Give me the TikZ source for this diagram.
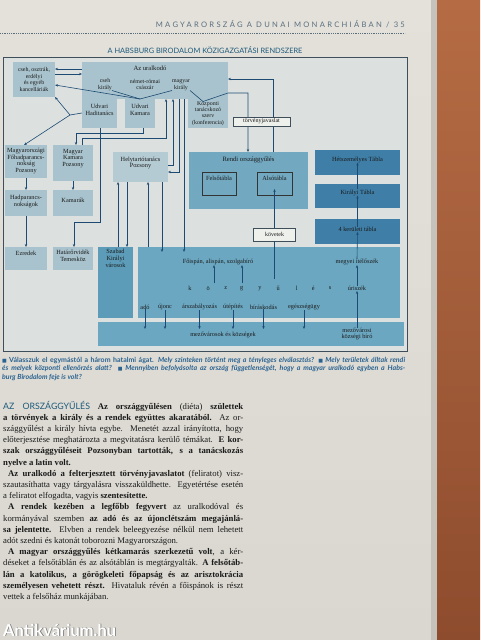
\documentclass[tikz,border=0pt]{standalone}
\usepackage{fontspec}
\setmainfont{Liberation Serif}
\newfontfamily\gill{Lato}
\newfontfamily\gillspaced[LetterSpace=30]{Lato}
\newfontfamily\dejavu{DejaVu Sans}
\usetikzlibrary{arrows.meta}
\definecolor{paper}{HTML}{E3E1DA}
\definecolor{paperlow}{HTML}{D9D7CF}
\definecolor{pageedge}{HTML}{C4C2BA}
\definecolor{brownhi}{HTML}{B56C44}
\definecolor{brownbg}{HTML}{8E4C2E}
\definecolor{framebg}{HTML}{DCE1E0}
\definecolor{framedraw}{HTML}{3E4E5A}
\definecolor{lightbox}{HTML}{A8C3CD}
\definecolor{palebox}{HTML}{B5CBD3}
\definecolor{midbox}{HTML}{72A8C0}
\definecolor{darkbox}{HTML}{3F7EA7}
\definecolor{citybox}{HTML}{5C9CB8}
\definecolor{regionbox}{HTML}{6BA7C1}
\definecolor{lineblue}{HTML}{1C4A72}
\definecolor{headblue}{HTML}{1E5A7C}
\definecolor{headgrey}{HTML}{5A6E7E}
\definecolor{qblue}{HTML}{2A6290}
\definecolor{inktext}{HTML}{1A1A1A}
\definecolor{labelbg}{HTML}{EEF0EC}
\newcommand{\qb}{{\dejavu\upshape\fontsize{5}{5}\selectfont ■}}
\begin{document}
\begin{tikzpicture}[x=1pt,y=-1pt,
  fbox/.style={draw=none, inner sep=0pt, outer sep=0pt, anchor=north west},
  dlbl/.style={font=\fontsize{6.3}{6.8}\selectfont, align=center, inner sep=0pt, text=inktext},
  arr/.style={draw=lineblue, line width=0.6pt, -{Stealth[length=3pt,width=2.4pt]}},
  ln/.style={draw=lineblue, line width=0.6pt},
  into/.style={shorten >=-5pt},
  tag/.style={draw=framedraw, line width=0.5pt, fill=labelbg, inner sep=0pt, outer sep=0pt, anchor=north west, font=\fontsize{6}{6.6}\selectfont, text=inktext},
  bodyline/.style={anchor=base west, inner sep=0pt, font=\fontsize{8.7}{10}\selectfont, text=inktext},
  qline/.style={anchor=base west, inner sep=0pt, font=\gill\bfseries\itshape\fontsize{7}{8}\selectfont, text=qblue},
]
\useasboundingbox (0,0) rectangle (480,640);
% paper
\shade[top color=paper, bottom color=paperlow] (0,0) rectangle (431,640);
\fill[pageedge] (431,0) rectangle (437,640);
\shade[top color=brownhi, bottom color=brownbg] (437,0) rectangle (480,640);

% header
\node[anchor=base east, inner sep=0pt, font=\gillspaced\fontsize{7.6}{9}\selectfont, text=headgrey] (hdr) at (405,27.5) {MAGYARORSZÁG A DUNAI MONARCHIÁBAN / 35};
\draw[headgrey, line width=0.7pt, dash pattern=on 0.7pt off 1.1pt] (0,33) -- (405,33);
\node[inner sep=0pt, font=\gill\fontsize{7.4}{9}\selectfont, text=headblue] (title) at (205,50.5) {A HABSBURG BIRODALOM KÖZIGAZGATÁSI RENDSZERE};

% frame
\filldraw[fill=framebg, draw=framedraw, line width=0.8pt] (3,57.5) rectangle (407,351);

% guides
\foreach \n in {69,74,79,85,93,113,133,138,165,172,222,279,283} \coordinate (h\n) at (0,\n);
\foreach \n in {24,74,76,82,100,118,127,143,148,162,166,173,179,184,214,242,248,273} \coordinate (v\n) at (\n,0);

% boxes
\node[fbox, fill=lightbox, minimum width=42pt, minimum height=35pt] (kanc) at (13,62) {};
\node[fbox, fill=lightbox, minimum width=146pt, minimum height=37pt] (ural) at (82,62) {};
\node[fbox, fill=lightbox, minimum width=35pt, minimum height=29pt] (hadi) at (82,99) {};
\node[fbox, fill=lightbox, minimum width=30pt, minimum height=29pt] (kamara) at (125,99) {};
\node[fbox, fill=lightbox, minimum width=40pt, minimum height=29pt] (kozp) at (188,99) {};
\node[fbox, fill=lightbox, minimum width=42pt, minimum height=33pt] (foh) at (5,145) {};
\node[fbox, fill=lightbox, minimum width=42pt, minimum height=26pt] (hadp) at (5,190) {};
\node[fbox, fill=lightbox, minimum width=42pt, minimum height=23pt] (ezr) at (5,247) {};
\node[fbox, fill=lightbox, minimum width=40pt, minimum height=36pt] (mkam) at (53,145) {};
\node[fbox, fill=lightbox, minimum width=40pt, minimum height=26pt] (kamarak) at (53,190) {};
\node[fbox, fill=lightbox, minimum width=40pt, minimum height=23pt] (hatv) at (53,247) {};
\node[fbox, fill=palebox, minimum width=55pt, minimum height=30pt] (helyt) at (113,152) {};
\node[fbox, fill=citybox, minimum width=35pt, minimum height=71pt] (szab) at (98,247) {};
\node[fbox, fill=regionbox, minimum width=262pt, minimum height=71pt] (region) at (138,247) {};
\node[fbox, fill=regionbox, minimum width=306pt, minimum height=24pt] (band) at (98,322) {};
\node[fbox, fill=midbox, minimum width=119pt, minimum height=57pt] (rendi) at (189,152) {};
\node[fbox, fill=midbox, draw=black!80, line width=0.6pt, minimum width=34pt, minimum height=23pt] (felso) at (202,172) {};
\node[fbox, fill=midbox, draw=black!80, line width=0.6pt, minimum width=35pt, minimum height=23pt] (also) at (257,172) {};
\node[fbox, fill=darkbox, minimum width=85pt, minimum height=25pt] (het) at (315,150) {};
\node[fbox, fill=darkbox, minimum width=85pt, minimum height=24pt] (kir) at (315,184) {};
\node[fbox, fill=darkbox, minimum width=85pt, minimum height=25pt] (ker) at (315,219) {};

% labels
\node[dlbl, font=\fontsize{5.9}{6.6}\selectfont] (kanct) at (34,79.5) {cseh, osztrák,\\erdélyi\\és egyéb\\kancelláriák};
\node[dlbl, font=\fontsize{6.6}{7}\selectfont] (uralt) at (150,68) {Az uralkodó};
\node[dlbl, font=\fontsize{5.9}{6.3}\selectfont] (cseh) at (105,84.5) {cseh\\király};
\node[dlbl, font=\fontsize{5.9}{6.3}\selectfont] (nemet) at (145,84.5) {német-római\\császár};
\node[dlbl, font=\fontsize{5.9}{6.3}\selectfont] (magyar) at (181,85) {magyar\\király};
\node[dlbl] (hadit) at (99.5,110) {Udvari\\Haditanács};
\node[dlbl] (kamarat) at (140,110) {Udvari\\Kamara};
\node[dlbl, font=\fontsize{5.9}{6.2}\selectfont] (kozpt) at (208,113.5) {Központi\\tanácskozó\\szerv\\(konferencia)};
\node[dlbl] (foht) at (26,161) {Magyarországi\\Főhadparancs-\\nokság\\Pozsony};
\node[dlbl] (hadpt) at (26,201.5) {Hadparancs-\\nokságok};
\node[dlbl] (ezrt) at (26,253.5) {Ezredek};
\node[dlbl] (mkamt) at (73,158.5) {Magyar\\Kamara\\Pozsony};
\node[dlbl] (kamarakt) at (73,200.5) {Kamarák};
\node[dlbl] (hatvt) at (73,256) {Határőrvidék\\Temesköz};
\node[dlbl] (helytt) at (140.5,163) {Helytartótanács\\Pozsony};
\node[dlbl] (szabt) at (115.5,258.5) {Szabad\\Királyi\\városok};
\node[dlbl, font=\fontsize{6.6}{7}\selectfont] (rendit) at (248.5,160) {Rendi országgyűlés};
\node[dlbl] (felsot) at (219,178.5) {Felsőtábla};
\node[dlbl] (alsot) at (274.5,178.5) {Alsótábla};
\node[dlbl] (hett) at (357.5,159.5) {Hétszemélyes Tábla};
\node[dlbl] (kirt) at (357.5,192.5) {Királyi Tábla};
\node[dlbl] (kert) at (357.5,229.5) {4 kerületi tábla};
\node[dlbl] (foisp) at (218,262) {Főispán, alispán, szolgabíró};
\node[dlbl] (megyei) at (357,262) {megyei ítélőszék};
\node[dlbl] (kz1) at (190,288.5) {k};
\node[dlbl] (kz2) at (208.3,288.5) {ö};
\node[dlbl] (kz3) at (225.7,288.5) {z};
\node[dlbl] (kz4) at (241.7,288.5) {g};
\node[dlbl] (kz5) at (260,288.5) {y};
\node[dlbl] (kz6) at (278.3,288.5) {ű};
\node[dlbl] (kz7) at (296.7,288.5) {l};
\node[dlbl] (kz8) at (313.3,288.5) {é};
\node[dlbl] (kz9) at (330,288.5) {s};
\node[dlbl] (uri) at (357,288.5) {úriszék};
\node[dlbl] (it1) at (145,307) {adó};
\node[dlbl] (it2) at (165,307) {újonc};
\node[dlbl] (it3) at (199.5,307) {árszabályozás};
\node[dlbl] (it4) at (233,307) {útépítés};
\node[dlbl] (it5) at (263.5,307) {bíráskodás};
\node[dlbl] (it6) at (304,307) {egészségügy};
\node[dlbl] (bandt) at (223,335) {mezővárosok és községek};
\node[dlbl] (biro) at (357,334) {mezővárosi\\községi bíró};

% connectors
\draw[arr] (ural.west |- h69) -- (kanc.east |- h69);
\draw[arr] (kanc.east |- h74) -- (ural.west |- h74);
\draw[arr] (rendi.north -| v273) -- (v273 |- h79) -- (ural.east |- h79);
\coordinate (kp) at (203,101.5);
\draw[ln] (magyar.south east) -- (kp);
\draw[arr] (kp) -- (ural.east |- h93) -- (v248 |- h93) -- (rendi.north -| v248);
\draw[ln] (cseh.south east) -- (kamara.north);
\draw[ln] (magyar.south west) -- (kamara.north);
\draw[arr] (kamara.north) -- (kanc.east |- h85);
\coordinate (J) at (70,115);
\draw[ln] (hadi.west |- h113) -- (J);
\draw[arr] (J) -- (kanc.south east);
\draw[arr] (J) -- (foh.north -| v24);
\draw[arr] (hadi.south -| v100) -- (v100 |- h222) -- (v74 |- h222) -- (hatv.north -| v74);
\draw[arr] (kamara.south -| v143) -- (v143 |- h133) -- (v76 |- h133) -- (mkam.north -| v76);
\draw[arr] (mkam.north -| v82) -- (v82 |- h138) -- (v166 |- h138) -- (v166 |- ural.south);
\draw[arr] (helyt.east |- h165) -- (v173 |- h165) -- (v173 |- ural.south);
\draw[arr] (v179 |- ural.south) -- (v179 |- h172) -- (helyt.east |- h172);
\draw[arr, into] (v184 |- ural.south) -- (region.north -| v184);
\draw[arr] (szab.north -| v118) -- (helyt.south -| v118);
\draw[arr] (helyt.south -| v127) -- (szab.north -| v127);
\draw[arr] (region.north -| v148) -- (helyt.south -| v148);
\draw[arr, into] (helyt.south -| v162) -- (region.north -| v162);
\draw[arr] (foh.south) -- (hadp.north);
\draw[arr] (hadp.south) -- (ezr.north);
\draw[arr] (mkam.south) -- (kamarak.north);
\draw[arr] (v214 |- h283) -- (v214 |- foisp.south);
\draw[arr] (v242 |- h283) -- (v242 |- foisp.south);
\foreach \i in {1,...,6} \draw[arr, shorten >=-7pt] (it\i.south) -- (it\i.south |- band.north);
\draw[arr] (biro.north) -- (uri.south);
\draw[arr] (uri.north) -- (megyei.south);
\draw[arr] (megyei.north) -- (kert.south);
\draw[arr] (kert.north) -- (kirt.south);
\draw[arr] (kirt.north) -- (hett.south);

% tags over lines
\node[tag, minimum width=57pt, minimum height=9pt] (tj) at (233,117) {törvényjavaslat};
\node[tag, minimum width=42pt, minimum height=13pt] (kov) at (253.5,228) {követek};
\draw[ln] (kov.south |- h279) -- (kov.south);
\draw[arr, shorten >=-6pt] (kov.north) -- (also.south);

% questions
\node[qline] (q1) at (2,362) {\makebox[403pt][s]{\qb\ \textup{Válasszuk el egymástól a három hatalmi ágat.} Mely szinteken történt meg a tényleges elválasztás? \qb\ Mely területek álltak rendi}};
\node[qline] (q2) at (2,370.5) {\makebox[403pt][s]{és melyek központi ellenőrzés alatt? \qb\ Mennyiben befolyásolta az ország függetlenségét, hogy a magyar uralkodó egyben a Habs-}};
\node[qline] (q3) at (2,379) {burg Birodalom feje is volt?};

% body text
\node[bodyline] (b1) at (3,409) {\makebox[240pt][s]{{\gill\fontsize{8.8}{10}\selectfont\color{headblue}AZ ORSZÁGGYŰLÉS} \textbf{Az országgyűlésen} (diéta) \textbf{születtek}}};
\node[bodyline] (b2) at (3,420.2) {\makebox[240pt][s]{\textbf{a törvények a király és a rendek együttes akaratából.} Az or-}};
\node[bodyline] (b3) at (3,431.4) {\makebox[240pt][s]{szággyűlést a király hívta egybe. Menetét azzal irányította, hogy}};
\node[bodyline] (b4) at (3,442.6) {\makebox[240pt][s]{előterjesztése meghatározta a megvitatásra kerülő témákat. \textbf{E kor-}}};
\node[bodyline] (b5) at (3,453.8) {\makebox[240pt][s]{\textbf{szak országgyűléseit Pozsonyban tartották, s a tanácskozás}}};
\node[bodyline] (b6) at (3,465) {\textbf{nyelve a latin volt.}};
\node[bodyline] (b7) at (3,476.2) {\makebox[240pt][s]{\hspace*{5pt}\textbf{Az uralkodó a felterjesztett törvényjavaslatot} (feliratot) visz-}};
\node[bodyline] (b8) at (3,487.4) {\makebox[240pt][s]{szautasíthatta vagy tárgyalásra visszaküldhette. Egyetértése esetén}};
\node[bodyline] (b9) at (3,498.6) {a feliratot elfogadta, vagyis \textbf{szentesítette.}};
\node[bodyline] (b10) at (3,509.8) {\makebox[240pt][s]{\hspace*{5pt}\textbf{A rendek kezében a legfőbb fegyvert} az uralkodóval és}};
\node[bodyline] (b11) at (3,521) {\makebox[240pt][s]{kormányával szemben \textbf{az adó és az újonclétszám megajánlá-}}};
\node[bodyline] (b12) at (3,532.2) {\makebox[240pt][s]{\textbf{sa jelentette.} Elvben a rendek beleegyezése nélkül nem lehetett}};
\node[bodyline] (b13) at (3,543.4) {adót szedni és katonát toborozni Magyarországon.};
\node[bodyline] (b14) at (3,554.6) {\makebox[240pt][s]{\hspace*{5pt}\textbf{A magyar országgyűlés kétkamarás szerkezetű volt}, a kér-}};
\node[bodyline] (b15) at (3,565.8) {\makebox[240pt][s]{déseket a felsőtáblán és az alsótáblán is megtárgyalták. \textbf{A felsőtáb-}}};
\node[bodyline] (b16) at (3,577) {\makebox[240pt][s]{\textbf{lán a katolikus, a görögkeleti főpapság és az arisztokrácia}}};
\node[bodyline] (b17) at (3,588.2) {\makebox[240pt][s]{\textbf{személyesen vehetett részt.} Hivataluk révén a főispánok is részt}};
\node[bodyline] (b18) at (3,599.4) {vettek a felsőház munkájában.};

% watermark
\node[anchor=base west, inner sep=0pt, font=\gill\bfseries\fontsize{16.5}{18}\selectfont, text=black!55] (wmshadow) at (3.8,636.8) {Antikvárium.hu};
\node[anchor=base west, inner sep=0pt, font=\gill\bfseries\fontsize{16.5}{18}\selectfont, text=white] (wm) at (3,636) {Antikvárium.hu};
\end{tikzpicture}
\end{document}
